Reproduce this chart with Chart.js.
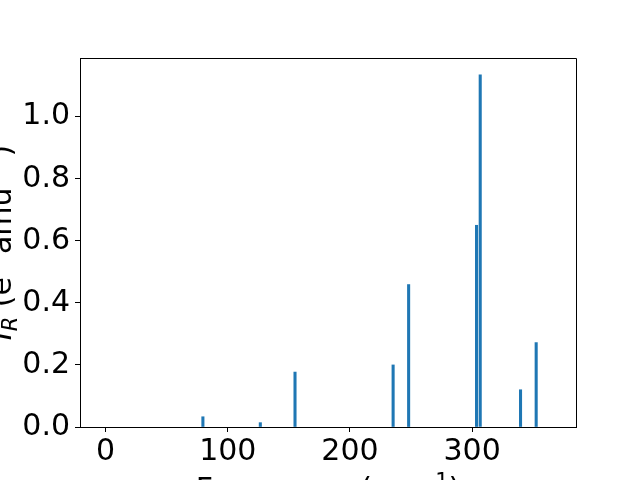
<!DOCTYPE html>
<html>
<head>
<meta charset="utf-8">
<script src="https://cdn.jsdelivr.net/npm/chart.js@4"></script>
<style>
    html, body { margin: 0; padding: 0; background: #fff; }
    #wrap { width: 640px; height: 480px; }
</style>
</head>
<body>
<div id="wrap"><canvas id="ramanChart" width="640" height="480"></canvas></div>
<script>
// Raman activity per mode
const frequencies = [79.6, 126.6, 155.0, 235.3, 248.0, 303.6, 306.6, 339.6, 352.4];
const intensities = [0.033, 0.014, 0.177, 0.200, 0.459, 0.650, 1.135, 0.120, 0.272];
const xTickValues = [0, 100, 200, 300];
const yTickValues = [0.0, 0.2, 0.4, 0.6, 0.8, 1.0];

const FONT = 'DejaVu Sans';
const FS = 30;

// draws a label made of pieces, some of them sub/superscript
function drawRich(ctx, parts, x, y, rotate) {
    ctx.save();
    ctx.translate(x, y);
    if (rotate) ctx.rotate(-Math.PI / 2);
    ctx.fillStyle = '#000';
    ctx.textBaseline = 'alphabetic';
    ctx.textAlign = 'left';
    const fontOf = p => (p.it ? 'italic ' : '') + ((p.sub || p.sup) ? FS * 0.7 : FS) + 'px "' + FONT + '"';
    let total = 0;
    parts.forEach(p => { ctx.font = fontOf(p); p.w = ctx.measureText(p.t).width; total += p.w; });
    let cx = -total / 2;
    parts.forEach(p => {
        ctx.font = fontOf(p);
        let dy = 0;
        if (p.sub) dy = FS * 0.2;
        if (p.sup) dy = -FS * 0.36;
        ctx.fillText(p.t, cx, dy);
        cx += p.w;
    });
    ctx.restore();
}

const framePlugin = {
    id: 'frame',
    afterDraw(chart) {
        const { ctx, chartArea: a } = chart;
        ctx.save();
        ctx.strokeStyle = '#000';
        ctx.lineWidth = 1;
        ctx.beginPath();
        ctx.moveTo(Math.round(a.left) + 0.5, Math.round(a.top) + 0.5);
        ctx.lineTo(Math.round(a.right) + 0.5, Math.round(a.top) + 0.5);
        ctx.lineTo(Math.round(a.right) + 0.5, Math.round(a.bottom) + 0.5);
        ctx.stroke();
        ctx.restore();

        // axis titles (clipped by the canvas edge like the original)
        drawRich(ctx, [
            { t: 'I', it: true }, { t: 'R', it: true, sub: true },
            { t: ' (e' }, { t: '2', sup: true }, { t: ' amu' }, { t: '\u22121', sup: true }, { t: ')' }
        ], 11, (a.top + a.bottom) / 2, true);
        drawRich(ctx, [
            { t: 'Frequency (cm' }, { t: '\u22121', sup: true }, { t: ')' }
        ], (a.left + a.right) / 2, 499, false);
    }
};

const tickFont = { family: FONT, size: FS };

new Chart(document.getElementById('ramanChart'), {
    type: 'bar',
    data: {
        datasets: [{
            data: frequencies.map((f, i) => ({ x: f, y: intensities[i] })),
            backgroundColor: '#1f77b4',
            borderWidth: 0,
            barThickness: 2.4
        }]
    },
    options: {
        responsive: false,
        animation: false,
        events: [],
        layout: { padding: { top: 58, right: 64, left: 0, bottom: 0 } },
        plugins: { legend: { display: false }, tooltip: { enabled: false } },
        scales: {
            x: {
                type: 'linear',
                offset: false,
                min: -21,
                max: 385,
                afterFit: s => { s.height = 53; },
                afterBuildTicks: s => { s.ticks = xTickValues.map(v => ({ value: v })); },
                ticks: { font: tickFont, color: '#000', padding: 2, maxRotation: 0, callback: v => v },
                grid: { drawOnChartArea: false, offset: false, tickLength: 5, color: '#000', tickWidth: 1 },
                border: { color: '#000', width: 1 }
            },
            y: {
                min: 0,
                max: 1.189,
                afterFit: s => { s.width = 80; },
                afterBuildTicks: s => { s.ticks = yTickValues.map(v => ({ value: v })); },
                ticks: { font: tickFont, color: '#000', padding: 5, callback: v => v.toFixed(1) },
                grid: { drawOnChartArea: false, tickLength: 5, color: '#000', tickWidth: 1 },
                border: { color: '#000', width: 1 }
            }
        }
    },
    plugins: [framePlugin]
});
</script>
</body>
</html>
